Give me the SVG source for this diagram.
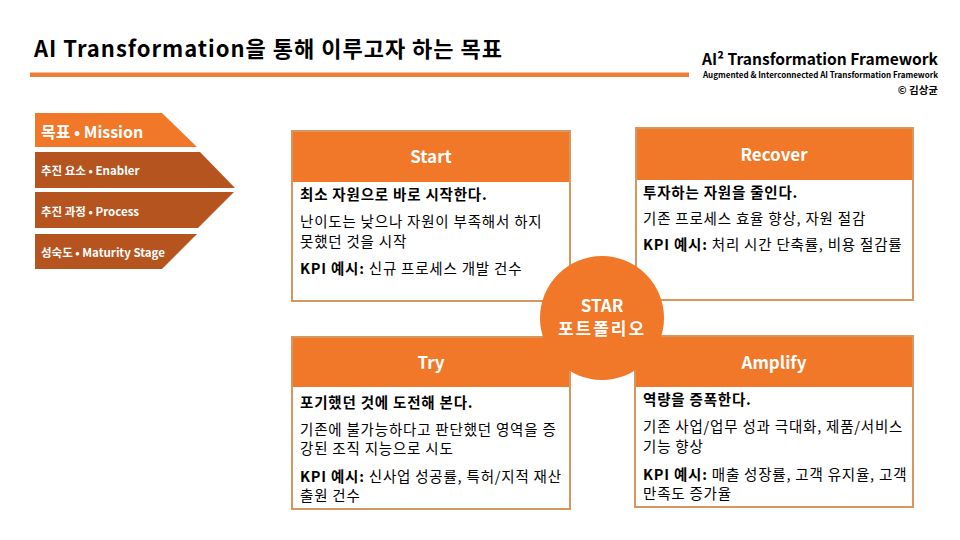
<svg xmlns="http://www.w3.org/2000/svg" width="960" height="540" viewBox="0 0 960 540">
<style>
text { font-family: "Noto Sans CJK KR", "Noto Sans", sans-serif; }
.title { font-size: 22px; font-weight: 700; fill: #000; }
.fw1 { font-size: 15.6px; font-weight: 700; fill: #000; text-anchor: end; }
.fw2 { font-size: 8.2px; font-weight: 700; fill: #000; text-anchor: end; }
.fw3 { font-size: 10.5px; font-weight: 700; fill: #000; text-anchor: end; }
.band1 { fill: #F07828; }
.band2 { fill: #B5541F; }
.lbl1 { font-size: 16px; font-weight: 700; fill: #fff; }
.lbl2 { font-size: 11.5px; font-weight: 700; fill: #fff; }
.head { fill: #F07828; }
.frame { fill: none; stroke: #D6965E; stroke-width: 2; }
.body { fill: #fff; }
.hdr { font-size: 17px; font-weight: 700; fill: #fff; text-anchor: middle; }
.t { font-size: 14.5px; fill: #000; letter-spacing: 0.8px; }
.bold { font-weight: 700; }
.circ { fill: #F07828; }
.ctext { font-size: 17px; font-weight: 700; fill: #fff; text-anchor: middle; }
</style>

<g id="header">
  <text class="title" x="34" y="57" textLength="468" lengthAdjust="spacing">AI Transformation을 통해 이루고자 하는 목표</text>
  <rect x="30" y="72.5" width="659" height="4.5" fill="#ED7D31"/>
  <text class="fw1" x="938" y="65">AI² Transformation Framework</text>
  <text class="fw2" x="938" y="78" textLength="235" lengthAdjust="spacingAndGlyphs">Augmented &amp; Interconnected AI Transformation Framework</text>
  <text class="fw3" x="938" y="94">© 김상균</text>
</g>

<g id="legend">
  <g id="legend-mission">
    <polygon class="band1" points="35,113 162,113 197,147 35,147"/>
    <text class="lbl1" x="41" y="138">목표 • Mission</text>
  </g>
  <g id="legend-enabler">
    <polygon class="band2" points="35,152 200,152 235,188 35,188"/>
    <text class="lbl2" x="41" y="175">추진 요소 • Enabler</text>
  </g>
  <g id="legend-process">
    <polygon class="band2" points="35,192 234,192 198,228 35,228"/>
    <text class="lbl2" x="41" y="216">추진 과정 • Process</text>
  </g>
  <g id="legend-maturity">
    <polygon class="band2" points="35,234 197,234 162,269 35,269"/>
    <text class="lbl2" x="41" y="257">성숙도 • Maturity Stage</text>
  </g>
</g>

<g id="start">
  <rect class="body" x="292" y="131" width="278" height="170"/>
  <rect class="head" x="292" y="131" width="278" height="51"/>
  <rect class="frame" x="292" y="131" width="278" height="170"/>
  <text class="hdr" x="431" y="163">Start</text>
  <text class="t bold" x="300" y="200">최소 자원으로 바로 시작한다.</text>
  <text class="t" x="300" y="227">난이도는 낮으나 자원이 부족해서 하지</text>
  <text class="t" x="300" y="247">못했던 것을 시작</text>
  <text class="t" x="300" y="274"><tspan class="bold">KPI 예시:</tspan> 신규 프로세스 개발 건수</text>
</g>

<g id="recover">
  <rect class="body" x="636" y="128" width="277" height="172"/>
  <rect class="head" x="636" y="128" width="277" height="52"/>
  <rect class="frame" x="636" y="128" width="277" height="172"/>
  <text class="hdr" x="774" y="161">Recover</text>
  <text class="t bold" x="643" y="198">투자하는 자원을 줄인다.</text>
  <text class="t" x="643" y="224">기존 프로세스 효율 향상, 자원 절감</text>
  <text class="t" x="643" y="250"><tspan class="bold">KPI 예시:</tspan> 처리 시간 단축률, 비용 절감률</text>
</g>

<g id="try">
  <rect class="body" x="292" y="337" width="278" height="172"/>
  <rect class="head" x="292" y="337" width="278" height="50"/>
  <rect class="frame" x="292" y="337" width="278" height="172"/>
  <text class="hdr" x="431" y="369">Try</text>
  <text class="t bold" x="300" y="408">포기했던 것에 도전해 본다.</text>
  <text class="t" x="300" y="435">기존에 불가능하다고 판단했던 영역을 증</text>
  <text class="t" x="300" y="454">강된 조직 지능으로 시도</text>
  <text class="t" x="300" y="482"><tspan class="bold">KPI 예시:</tspan> 신사업 성공률, 특허/지적 재산</text>
  <text class="t" x="300" y="501">출원 건수</text>
</g>

<g id="amplify">
  <rect class="body" x="635" y="336" width="278" height="171"/>
  <rect class="head" x="635" y="336" width="278" height="51"/>
  <rect class="frame" x="635" y="336" width="278" height="171"/>
  <text class="hdr" x="774" y="369">Amplify</text>
  <text class="t bold" x="643" y="405">역량을 증폭한다.</text>
  <text class="t" x="643" y="432">기존 사업/업무 성과 극대화, 제품/서비스</text>
  <text class="t" x="643" y="452">기능 향상</text>
  <text class="t" x="643" y="480"><tspan class="bold">KPI 예시:</tspan> 매출 성장률, 고객 유지율, 고객</text>
  <text class="t" x="643" y="499">만족도 증가율</text>
</g>

<g id="connectors"></g>

<g id="star">
  <circle class="circ" cx="602" cy="318" r="62"/>
  <text class="ctext" x="602" y="312">STAR</text>
  <text class="ctext" x="602" y="335" letter-spacing="2">포트폴리오</text>
</g>
</svg>
